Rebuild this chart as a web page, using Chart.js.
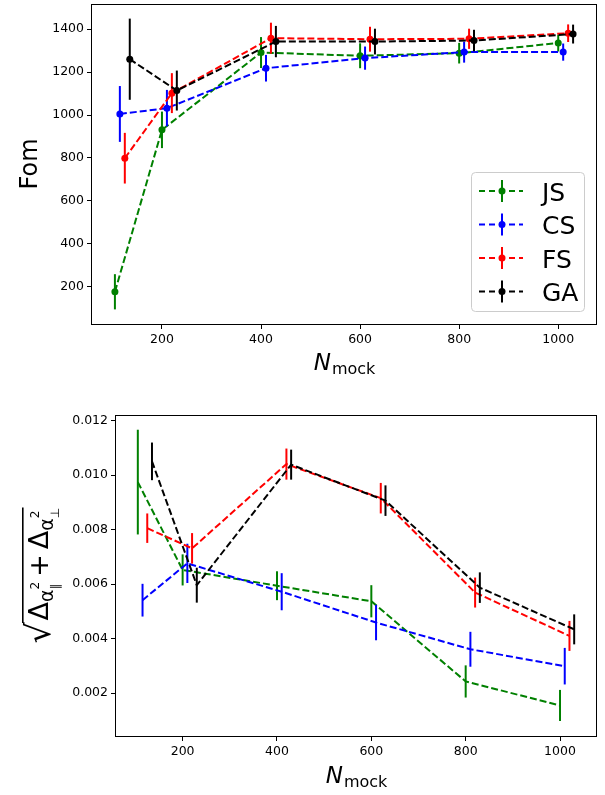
<!DOCTYPE html>
<html>
<head>
<meta charset="utf-8">
<script src="https://cdn.jsdelivr.net/npm/chart.js@4.4.0/dist/chart.umd.min.js"></script>
<style>
  body { margin: 0; background: #fff; }
  #wrap { position: relative; width: 605px; height: 795px; }
  canvas { position: absolute; left: 0; }
</style>
</head>
<body>
<div id="wrap">
  <canvas id="fomChart" width="605" height="395" style="top:0;width:605px;height:395px"></canvas>
  <canvas id="errChart" width="605" height="400" style="top:395px;width:605px;height:400px"></canvas>
</div>
<script>
const seriesNames = ["JS", "CS", "FS", "GA"];
const seriesColors = ["#008000", "#0000ff", "#ff0000", "#000000"];

// N_mock positions, each method shifted a little so the bars don't overlap
const nJS = [105, 200, 400, 600, 800, 1000];
const nCS = [115, 210, 410, 610, 810, 1010];
const nFS = [125, 220, 420, 620, 820, 1020];
const nGA = [135, 230, 430, 630, 830, 1030];

// top panel: Fom
const fomJS = [177, 931, 1291, 1276, 1288, 1335];
const fomJSErr = [82, 85, 72, 58, 48, 39];
const fomCS = [1005, 1032, 1218, 1265, 1293, 1293];
const fomCSErr = [130, 85, 62, 54, 49, 40];
const fomFS = [799, 1102, 1358, 1353, 1355, 1381];
const fomFSErr = [118, 93, 72, 58, 47, 41];
const fomGA = [1260, 1114, 1342, 1342, 1347, 1377];
const fomGAErr = [189, 93, 73, 60, 50, 44];

// bottom panel: sqrt(d_alpha_par^2 + d_alpha_perp^2)
const errJS = [0.00974, 0.00652, 0.00594, 0.00537, 0.00243, 0.00155];
const errJSErr = [0.00192, 0.00057, 0.00053, 0.00059, 0.00059, 0.00057];
const errCS = [0.00541, 0.00676, 0.00572, 0.00459, 0.00361, 0.00299];
const errCSErr = [0.0006, 0.00072, 0.00068, 0.00065, 0.00064, 0.00067];
const errFS = [0.00805, 0.00731, 0.0104, 0.00915, 0.00569, 0.0041];
const errFSErr = [0.00054, 0.00056, 0.00057, 0.00056, 0.00055, 0.00055];
const errGA = [0.0105, 0.00596, 0.01038, 0.00906, 0.00587, 0.00434];
const errGAErr = [0.00069, 0.00064, 0.00055, 0.00056, 0.00056, 0.00055];

const xTicks = [200, 400, 600, 800, 1000];
const fomTicks = [200, 400, 600, 800, 1000, 1200, 1400];
const errTicks = [0.002, 0.004, 0.006, 0.008, 0.010, 0.012];

Chart.defaults.color = "#000";
Chart.defaults.font.family = "'DejaVu Sans'";

const tickFont = { family: "'DejaVu Sans'", size: 12.5 };

function makeSets(xs, ys, errs, pointR) {
  return xs.map((n, k) => ({
    label: seriesNames[k],
    data: n.map((v, i) => ({ x: v, y: ys[k][i] })),
    errors: errs[k],
    borderColor: seriesColors[k],
    backgroundColor: seriesColors[k],
    pointBackgroundColor: seriesColors[k],
    pointBorderWidth: 0,
    pointRadius: pointR,
    pointHoverRadius: pointR,
    borderWidth: 2,
    borderDash: [7, 3],
    showLine: true,
    fill: false,
    tension: 0,
    order: 3 - k  // GA on top, like matplotlib's call order
  }));
}

// vertical error bars, drawn right after each dataset
const errorBars = {
  id: "errorBars",
  afterDatasetDraw(chart, args) {
    const ds = chart.data.datasets[args.index];
    if (!ds.errors) return;
    const ctx = chart.ctx, xs = chart.scales.x, ys = chart.scales.y, a = chart.chartArea;
    ctx.save();
    ctx.beginPath();
    ctx.rect(a.left, a.top, a.right - a.left, a.bottom - a.top);
    ctx.clip();
    ctx.strokeStyle = ds.borderColor;
    ctx.lineWidth = 2;
    ds.data.forEach((p, i) => {
      const px = xs.getPixelForValue(p.x);
      ctx.beginPath();
      ctx.moveTo(px, ys.getPixelForValue(p.y - ds.errors[i]));
      ctx.lineTo(px, ys.getPixelForValue(p.y + ds.errors[i]));
      ctx.stroke();
    });
    ctx.restore();
  }
};

// full box around the axes
const frame = {
  id: "frame",
  afterDraw(chart) {
    const ctx = chart.ctx, a = chart.chartArea;
    ctx.save();
    ctx.strokeStyle = "#000";
    ctx.lineWidth = 1;
    ctx.strokeRect(Math.round(a.left) - 0.5, Math.round(a.top) + 0.5,
      Math.round(a.right - a.left) + 1, Math.round(a.bottom - a.top));
    ctx.restore();
  }
};

function drawNmock(chart, baseline) {
  const ctx = chart.ctx, a = chart.chartArea;
  ctx.save();
  ctx.fillStyle = "#000";
  ctx.textBaseline = "alphabetic";
  ctx.textAlign = "left";
  ctx.font = "italic 23px 'DejaVu Sans'";
  const wN = ctx.measureText("N").width;
  ctx.font = "16px 'DejaVu Sans'";
  const wM = ctx.measureText("mock").width;
  const x0 = (a.left + a.right) / 2 - (wN + wM) / 2;
  ctx.font = "italic 23px 'DejaVu Sans'";
  ctx.fillText("N", x0, baseline);
  ctx.font = "16px 'DejaVu Sans'";
  ctx.fillText("mock", x0 + wN + 1, baseline + 4);
  ctx.restore();
}

function axes(yMin, yMax, yTicks, yFmt, yWidth, xHeight) {
  return {
    x: {
      type: "linear", min: 58.75, max: 1076.25,
      afterBuildTicks: s => { s.ticks = xTicks.map(v => ({ value: v })); },
      afterFit: s => { s.height = xHeight; s.paddingLeft = 0; s.paddingRight = 0; },
      ticks: { font: tickFont, color: "#000", padding: 3, maxRotation: 0, callback: v => String(v) },
      grid: { drawOnChartArea: false, drawTicks: true, tickLength: 5, color: "#000" },
      border: { display: false }
    },
    y: {
      type: "linear", min: yMin, max: yMax,
      afterBuildTicks: s => { s.ticks = yTicks.map(v => ({ value: v })); },
      afterFit: s => { s.width = yWidth; s.paddingTop = 0; s.paddingBottom = 0; },
      ticks: { font: tickFont, color: "#000", padding: 3, callback: yFmt },
      grid: { drawOnChartArea: false, drawTicks: true, tickLength: 5, color: "#000" },
      border: { display: false }
    }
  };
}

const fomDecor = {
  id: "fomDecor",
  afterDraw(chart) {
    const ctx = chart.ctx;
    drawNmock(chart, 370);
    // y title
    ctx.save();
    ctx.translate(37, 164);
    ctx.rotate(-Math.PI / 2);
    ctx.font = "24px 'DejaVu Sans'";
    ctx.textAlign = "center";
    ctx.fillStyle = "#000";
    ctx.fillText("Fom", 0, 0);
    ctx.restore();
    // legend
    ctx.save();
    ctx.beginPath();
    ctx.roundRect(471.5, 172.5, 113, 139, 4);
    ctx.fillStyle = "rgba(255,255,255,0.8)";
    ctx.fill();
    ctx.strokeStyle = "#cccccc";
    ctx.lineWidth = 1;
    ctx.stroke();
    seriesNames.forEach((name, i) => {
      const cy = 191 + i * 33.5;
      const c = seriesColors[i];
      ctx.strokeStyle = c;
      ctx.fillStyle = c;
      ctx.lineWidth = 2;
      ctx.setLineDash([6, 4]);
      ctx.beginPath();
      ctx.moveTo(479, cy);
      ctx.lineTo(523, cy);
      ctx.stroke();
      ctx.setLineDash([]);
      ctx.beginPath();
      ctx.moveTo(502, cy - 11);
      ctx.lineTo(502, cy + 11);
      ctx.stroke();
      ctx.beginPath();
      ctx.arc(502, cy, 3.5, 0, Math.PI * 2);
      ctx.fill();
      ctx.fillStyle = "#000";
      ctx.font = "25px 'DejaVu Sans'";
      ctx.textBaseline = "alphabetic";
      ctx.fillText(name, 542, cy + 9.5);
    });
    ctx.restore();
  }
};

const errDecor = {
  id: "errDecor",
  afterDraw(chart) {
    const ctx = chart.ctx;
    drawNmock(chart, 388);
    // y title: sqrt(Delta_{alpha_par^2} + Delta_{alpha_perp^2})
    const big = 27, sub = 19, tiny = 12;
    ctx.save();
    ctx.translate(48, 180);
    ctx.rotate(-Math.PI / 2);
    ctx.fillStyle = "#000";
    ctx.strokeStyle = "#000";
    ctx.textAlign = "left";
    ctx.textBaseline = "alphabetic";
    const w = (t, f) => { ctx.font = f + "px 'DejaVu Sans'"; return ctx.measureText(t).width; };
    // radical glyph sized to about 29px of ink
    ctx.font = "30px 'DejaVu Sans'";
    let m = ctx.measureText("\u221A");
    const rs = 30 * 29 / (m.actualBoundingBoxAscent + m.actualBoundingBoxDescent);
    ctx.font = rs + "px 'DejaVu Sans'";
    m = ctx.measureText("\u221A");
    const rW = m.actualBoundingBoxLeft + m.actualBoundingBoxRight;
    const wD = w("\u0394", big), wA = w("\u03B1", sub), wS = Math.max(w("2", tiny), w("\u2225", tiny));
    const wP = w("+", big), gap = 5;
    const total = rW + 1 + wD + wA + wS + gap + wP + gap + wD + wA + wS + 3;
    let x = -total / 2;
    const top = -26;
    ctx.font = rs + "px 'DejaVu Sans'";
    ctx.fillText("\u221A", x + m.actualBoundingBoxLeft, top + m.actualBoundingBoxAscent);
    const lineStart = x + rW - 1.5;
    x += rW + 1;
    const term = (low) => {
      ctx.font = big + "px 'DejaVu Sans'";
      ctx.fillText("\u0394", x, 0);
      x += wD;
      ctx.font = sub + "px 'DejaVu Sans'";
      ctx.fillText("\u03B1", x, 5);
      x += wA;
      ctx.font = tiny + "px 'DejaVu Sans'";
      ctx.fillText("2", x, -9);
      ctx.fillText(low, x, 11);
      x += wS;
    };
    term("\u2225");
    x += gap;
    ctx.font = big + "px 'DejaVu Sans'";
    ctx.fillText("+", x, 0);
    x += wP + gap;
    term("\u22A5");
    ctx.lineWidth = 1.6;
    ctx.beginPath();
    ctx.moveTo(lineStart, top + 0.8);
    ctx.lineTo(x + 3, top + 0.8);
    ctx.stroke();
    ctx.restore();
  }
};

new Chart(document.getElementById("fomChart"), {
  type: "scatter",
  data: { datasets: makeSets([nJS, nCS, nFS, nGA], [fomJS, fomCS, fomFS, fomGA],
    [fomJSErr, fomCSErr, fomFSErr, fomGAErr], 3.5) },
  options: {
    responsive: false,
    animation: false,
    events: [],
    layout: { padding: { left: 0, right: 9, top: 4, bottom: 0 } },
    scales: axes(27, 1517, fomTicks, v => String(v), 92, 71),
    plugins: { legend: { display: false }, tooltip: { enabled: false } }
  },
  plugins: [errorBars, frame, fomDecor]
});

new Chart(document.getElementById("errChart"), {
  type: "scatter",
  data: { datasets: makeSets([nJS, nCS, nFS, nGA], [errJS, errCS, errFS, errGA],
    [errJSErr, errCSErr, errFSErr, errGAErr], 0) },
  options: {
    responsive: false,
    animation: false,
    events: [],
    layout: { padding: { left: 0, right: 9, top: 20, bottom: 0 } },
    scales: axes(0.00043, 0.0122, errTicks, v => v.toFixed(3), 116, 59),
    plugins: { legend: { display: false }, tooltip: { enabled: false } }
  },
  plugins: [errorBars, frame, errDecor]
});
</script>
</body>
</html>
